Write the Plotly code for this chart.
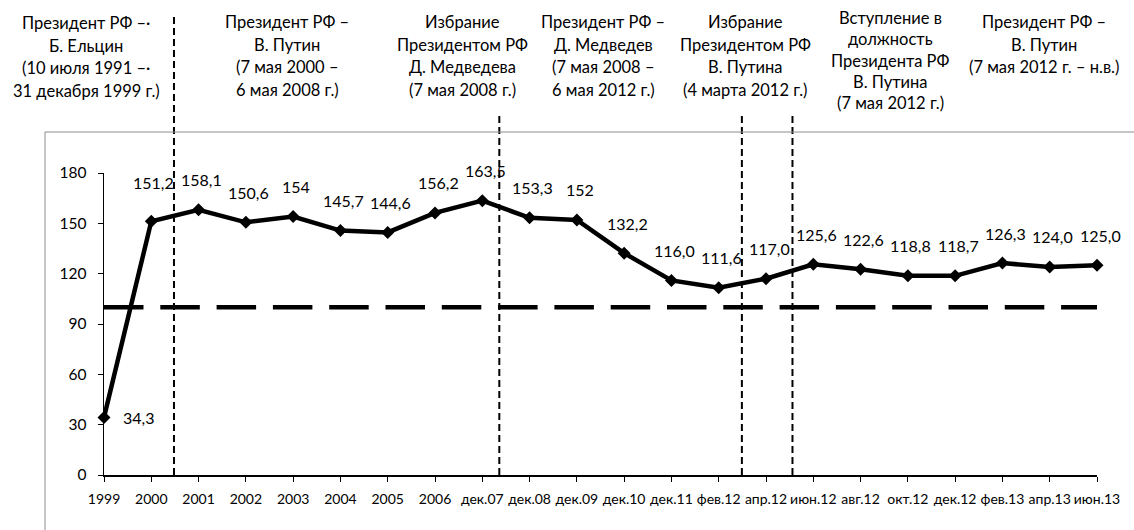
import plotly.graph_objects as go

# ---------------- data ----------------
CATEGORIES = ["1999", "2000", "2001", "2002", "2003", "2004", "2005", "2006",
              "дек.07", "дек.08", "дек.09", "дек.10", "дек.11", "фев.12", "апр.12",
              "июн.12", "авг.12", "окт.12", "дек.12", "фев.13", "апр.13", "июн.13"]
VALUES = [34.3, 151.2, 158.1, 150.6, 154.0, 145.7, 144.6, 156.2, 163.5, 153.3, 152.0,
          132.2, 116.0, 111.6, 117.0, 125.6, 122.6, 118.8, 118.7, 126.3, 124.0, 125.0]
VALUE_LABELS = ["34,3", "151,2", "158,1", "150,6", "154", "145,7", "144,6", "156,2",
                "163,5", "153,3", "152", "132,2", "116,0", "111,6", "117,0", "125,6",
                "122,6", "118,8", "118,7", "126,3", "124,0", "125,0"]
BASELINE = 100
Y_TICKS = [0, 30, 60, 90, 120, 150, 180]

# event lines (positions on the category scale)
EVENT_X = [1.48, 8.36, 13.49, 14.56]

# annotation blocks (text lines)
BLOCKS = [
    ["Президент РФ –·", "Б. Ельцин", "(10 июля 1991 –·", "31 декабря 1999 г.)"],
    ["Президент РФ –", "В. Путин", "(7 мая 2000 –", "6 мая 2008 г.)"],
    ["Избрание", "Президентом РФ", "Д. Медведева", "(7 мая 2008 г.)"],
    ["Президент РФ –", "Д. Медведев", "(7 мая 2008 –", "6 мая 2012 г.)"],
    ["Избрание", "Президентом РФ", "В. Путина", "(4 марта 2012 г.)"],
    ["Вступление в", "должность", "Президента РФ", "В. Путина", "(7 мая 2012 г.)"],
    ["Президент РФ –", "В. Путин", "(7 мая 2012 г. – н.в.)"],
]

# ---------------- layout geometry (pixels) ----------------
W, H = 1134, 530
ML, MR, MT, MB = 104, 37, 173, 55
PW, PH = W - ML - MR, H - MT - MB
FONT = "Lato"


def px2paper_x(px):
    return (px - ML) / PW


def px2paper_y(py):
    return (H - MB - py) / PH


BLOCK_CX = [86, 287, 462, 603, 745, 890, 1044]
BLOCK_TOP = [23, 22, 22, 22, 22, 18, 22]
BLOCK_STEP = [22.7, 22.7, 22.7, 22.7, 22.7, 21.3, 22.7]
EVENT_TOP = [14, 112, 112, 112]

x_idx = list(range(len(CATEGORIES)))

fig = go.Figure()

# baseline 100
fig.add_trace(go.Scatter(
    x=x_idx, y=[BASELINE] * len(x_idx), mode="lines",
    line=dict(color="black", width=4.5, dash="39.5px,16.8px"),
    hoverinfo="skip", showlegend=False, cliponaxis=False))

# main series
fig.add_trace(go.Scatter(
    x=x_idx, y=VALUES, mode="lines+markers",
    line=dict(color="black", width=4.5),
    marker=dict(symbol="diamond", size=10, color="black"),
    showlegend=False, cliponaxis=False))

annotations = []
# data labels
for i, (v, t) in enumerate(zip(VALUES, VALUE_LABELS)):
    if i == 0:
        xs, ys = 34, 0
    elif i == 1:
        xs, ys = 2, 39
    else:
        xs, ys = 3, 30
    annotations.append(dict(x=i, y=v, xref="x", yref="y", text=t, showarrow=False,
                            xshift=xs, yshift=ys,
                            font=dict(family=FONT, size=16, color="black")))

# top text blocks
for lines, cx, top, step in zip(BLOCKS, BLOCK_CX, BLOCK_TOP, BLOCK_STEP):
    for k, ln in enumerate(lines):
        annotations.append(dict(x=px2paper_x(cx), y=px2paper_y(top + k * step),
                                xref="paper", yref="paper", text=ln, showarrow=False,
                                xanchor="center", yanchor="middle",
                                font=dict(family=FONT, size=16.5, color="black")))

shapes = []
# event dashed verticals
for ex, top in zip(EVENT_X, EVENT_TOP):
    shapes.append(dict(type="line", xref="x", yref="paper", x0=ex, x1=ex,
                       y0=0, y1=px2paper_y(top),
                       line=dict(color="black", width=2, dash="7px,4px")))
# chart-area border (gray)
bx, by = px2paper_x(45), px2paper_y(132)
shapes.append(dict(type="line", xref="paper", yref="paper", x0=bx, x1=bx,
                   y0=px2paper_y(H + 5), y1=by, line=dict(color="#8c8c8c", width=1)))
shapes.append(dict(type="line", xref="paper", yref="paper", x0=bx, x1=px2paper_x(W + 5),
                   y0=by, y1=by, line=dict(color="#8c8c8c", width=1)))

fig.update_layout(
    width=W, height=H, autosize=False,
    margin=dict(l=ML, r=MR, t=MT, b=MB, pad=0),
    paper_bgcolor="white", plot_bgcolor="white",
    showlegend=False, hovermode=False,
    annotations=annotations, shapes=shapes,
    font=dict(family=FONT, color="black"),
    xaxis=dict(range=[0, len(CATEGORIES) - 1], tickmode="array", tickvals=x_idx,
               ticktext=CATEGORIES, showgrid=False, zeroline=False,
               showline=True, linecolor="black", linewidth=1.5,
               ticks="outside", ticklen=5, tickcolor="black", tickwidth=1,
               ticklabelstandoff=6, tickangle=0,
               tickfont=dict(family=FONT, size=14, color="black")),
    yaxis=dict(range=[0, 180], tickmode="array", tickvals=Y_TICKS,
               showgrid=False, zeroline=False,
               showline=True, linecolor="black", linewidth=1.5,
               ticks="outside", ticklen=5, tickcolor="black", tickwidth=1,
               ticklabelstandoff=8,
               tickfont=dict(family=FONT, size=15.5, color="black")),
)

fig.write_html("out.html",
               config={"displayModeBar": False, "staticPlot": True},
               post_script="document.body.style.margin='0';document.body.style.overflow='hidden';")
